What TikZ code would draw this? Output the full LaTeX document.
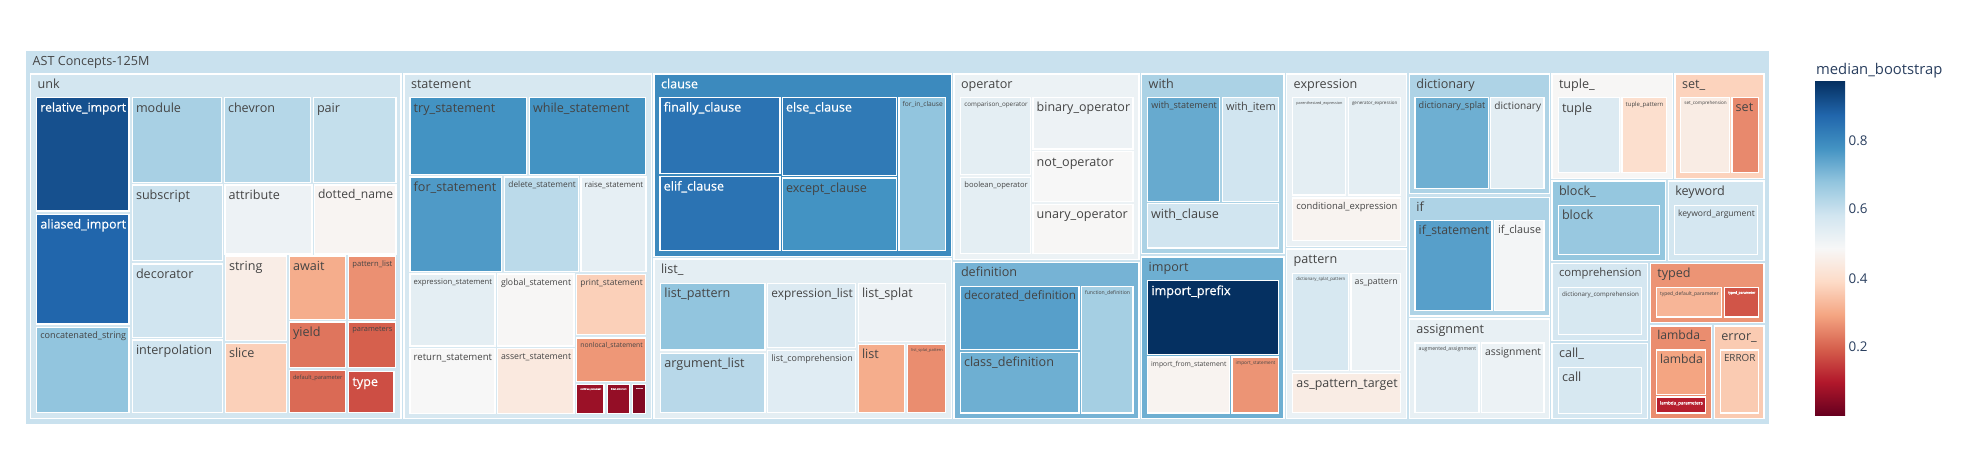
\documentclass[tikz,border=0pt]{standalone}
\usepackage{fontspec}
\setmainfont{Open Sans}
\newfontfamily\wfont{Open Sans}[FakeBold=0.6]
\definecolor{s0}{RGB}{103,0,31}
\definecolor{s1}{RGB}{178,24,43}
\definecolor{s2}{RGB}{214,96,77}
\definecolor{s3}{RGB}{244,165,130}
\definecolor{s4}{RGB}{253,219,199}
\definecolor{s5}{RGB}{247,247,247}
\definecolor{s6}{RGB}{209,229,240}
\definecolor{s7}{RGB}{146,197,222}
\definecolor{s8}{RGB}{67,147,195}
\definecolor{s9}{RGB}{33,102,172}
\definecolor{s10}{RGB}{5,48,97}
\definecolor{tdark}{RGB}{68,68,68}
\definecolor{cbtxt}{RGB}{42,63,95}
\pgfdeclareverticalshading{rdbu}{100bp}{color(0bp)=(s0); color(25bp)=(s0); color(30bp)=(s1); color(35bp)=(s2); color(40bp)=(s3); color(45bp)=(s4); color(50bp)=(s5); color(55bp)=(s6); color(60bp)=(s7); color(65bp)=(s8); color(70bp)=(s9); color(75bp)=(s10); color(100bp)=(s10)}
\newdimen\lblw
\def\whitename{white}
\tikzset{
  tilebox/.style={draw=white, line width=0.55pt},
  lbl/.style={inner sep=0pt, anchor=base west},
  cbtick/.style={inner sep=0pt, anchor=west, text=cbtxt, font=\fontsize{6.7pt}{8pt}\selectfont}
}
% #1 name, #2 x1, #3 y1, #4 x2, #5 pad, #6 text colour, #7 text
\newcommand\boxlabel[7]{%
  \pgfinterruptpicture
    \setbox0=\hbox{\fontsize{6.3pt}{7pt}\selectfont #7}%
    \global\lblw=\wd0\relax
  \endpgfinterruptpicture
  \pgfmathsetmacro\lblwpt{\lblw}%
  \pgfmathsetmacro\lblsc{min(1,((#4-#2-2*#5)*0.5)/max(\lblwpt,0.1))}%
  \pgfmathsetmacro\lblfs{6.3*\lblsc}%
  \pgfmathsetmacro\lbloff{3.6+0.85*12.6*\lblsc}%
  \def\lblcol{#6}%
  \ifx\lblcol\whitename\def\lblfam{\wfont}\else\def\lblfam{}\fi
  \node[lbl, text=#6, font=\lblfam\fontsize{\lblfs pt}{\lblfs pt}\selectfont] (#1) at ({#2+#5},{#3+\lbloff}) {#7};%
}
% leaf tile: [text colour] name x1 y1 x2 y2 fill text
\newcommand\tile[8][tdark]{%
  \path[tilebox, fill=#7] (#3,#4) rectangle (#5,#6);
  \boxlabel{#2}{#3}{#4}{#5}{3.3}{#1}{#8}}
% group tile
\newcommand\grp[8][tdark]{%
  \path[tilebox, fill=#7] (#3,#4) rectangle (#5,#6);
  \boxlabel{#2}{#3}{#4}{#5}{6.6}{#1}{#8}}
\begin{document}
\begin{tikzpicture}[x=0.5pt, y=-0.5pt]
\useasboundingbox (0,0) rectangle (1965,450);
\fill[white] (0,0) rectangle (1965,450);
% root
\grp{root}{25.7}{50.7}{1769.3}{424.3}{s6!88!s7}{AST Concepts-125M}
% groups
\grp{gunk}{30.7}{74}{401}{418.7}{s6!95!s5}{unk}
\grp{gstatement}{404}{74}{651.7}{418.7}{s6!85!s5}{statement}
\grp[white]{gclause}{654}{74}{951.7}{256.7}{s8!80!s9}{clause}
\grp{glist}{654}{259}{951.7}{418.7}{s6!50!s5}{list\_}
\grp{goperator}{954}{74}{1139}{259.3}{s5!70!s6}{operator}
\grp{gdefinition}{954}{262.3}{1139}{418.7}{s7!65!s8}{definition}
\grp{gwith}{1141.7}{74}{1284}{253.3}{s7!60!s6}{with}
\grp{gimport}{1141.7}{257}{1284}{418.7}{s8!45!s7}{import}
\grp{gexpression}{1286.7}{74}{1406.7}{246.7}{s5!65!s6}{expression}
\grp{gpattern}{1286.7}{249}{1406.7}{418.7}{s5!65!s6}{pattern}
\grp{gdictionary}{1409.3}{74}{1549.3}{193.7}{s7!55!s6}{dictionary}
\grp{gif}{1409.3}{197.3}{1549.3}{316}{s7!55!s6}{if}
\grp{gassignment}{1409.3}{319}{1549.3}{418.7}{s5!60!s6}{assignment}
\grp{gtuple}{1552}{74}{1672.3}{178.3}{s5!95!s4}{tuple\_}
\grp{gset}{1675}{74}{1764}{178.3}{s4!85!s3}{set\_}
\grp{gblock}{1552}{181}{1665.7}{260.7}{s7!95!s6}{block\_}
\grp{gkeyword}{1668.3}{181}{1764}{260.7}{s6!95!s5}{keyword}
\grp{gcomprehension}{1552}{263.3}{1647.7}{340.7}{s6!90!s5}{comprehension}
\grp{gcall}{1552}{343.3}{1647.7}{418.7}{s6!90!s5}{call\_}
\grp{gtyped}{1650.3}{263.3}{1764}{322.7}{s3!75!s2}{typed}
\grp{glambda}{1650.3}{326}{1711.7}{418.7}{s3!65!s2}{lambda\_}
\grp{gerror}{1714.3}{326}{1764}{418.7}{s4!70!s3}{error\_}
% unk leaves
\tile[white]{relimport}{36.7}{97.7}{129}{211}{s9!60!s10}{relative\_import}
\tile[white]{aliasimport}{36.7}{214.3}{129}{324}{s9}{aliased\_import}
\tile{concatstring}{36.7}{327.3}{129}{412.7}{s7}{concatenated\_string}
\tile{module}{132.3}{97.7}{221.7}{182.3}{s7!65!s6}{module}
\tile{chevron}{224.3}{97.7}{310.7}{182.3}{s7!45!s6}{chevron}
\tile{pair}{313.3}{97.7}{396}{182.3}{s6!80!s7}{pair}
\tile{subscript}{132.3}{185}{222.7}{260.7}{s6!90!s7}{subscript}
\tile{attribute}{225}{185}{312}{254}{s5!75!s6}{attribute}
\tile{dottedname}{314.3}{185}{396}{254}{s5!90!s4}{dotted\_name}
\tile{decorator}{132.3}{264}{222.7}{337.3}{s6}{decorator}
\tile{interpolation}{132.3}{340}{222.7}{412.7}{s6}{interpolation}
\tile{string}{225.3}{256}{286.7}{340.7}{s4!35!s5}{string}
\tile{slice}{225.3}{343.3}{286.7}{412.7}{s4!80!s3}{slice}
\tile{await}{289.3}{256}{345.3}{319.3}{s3!85!s4}{await}
\tile{patternlist}{348.7}{256}{395.3}{319.3}{s3!70!s2}{pattern\_list}
\tile{yield}{289.3}{322}{345.3}{367.3}{s2!70!s3}{yield}
\tile{parameters}{348.7}{322}{395.3}{367.3}{s2}{parameters}
\tile{defaultparameter}{289.3}{370.7}{345.3}{412.7}{s2!85!s3}{default\_parameter}
\tile[white]{type}{348.7}{371.7}{394}{412.7}{s2!75!s1}{type}
% statement leaves
\tile{trystatement}{410}{97.7}{526.7}{174.3}{s8}{try\_statement}
\tile{whilestatement}{529.3}{97.7}{645.7}{174.3}{s8}{while\_statement}
\tile{forstatement}{410}{177}{501.7}{271.7}{s8!85!s7}{for\_statement}
\tile{deletestatement}{504.7}{177}{578.7}{271.7}{s6!65!s7}{delete\_statement}
\tile{raisestatement}{581}{177}{646}{271.7}{s5!55!s6}{raise\_statement}
\tile{exprstatement}{410}{274}{495}{346}{s5!50!s6}{expression\_statement}
\tile{globalstatement}{497.3}{274}{574}{346}{s5!95!s4}{global\_statement}
\tile{printstatement}{576.7}{274.7}{645.7}{334.3}{s4!80!s3}{print\_statement}
\tile{returnstatement}{410}{348.5}{495}{413.3}{s5}{return\_statement}
\tile{assertstatement}{497.3}{348.5}{574}{413.3}{s4!50!s5}{assert\_statement}
\tile{nonlocalstatement}{576.7}{338}{645.7}{381.3}{s3!80!s2}{nonlocal\_statement}
\tile[white]{continuestatement}{576.7}{384.3}{604}{413.3}{s1!70!s0}{continue\_statement}
\tile[white]{breakstatement}{607.3}{384.3}{629.3}{413.3}{s1!60!s0}{break\_statement}
\tile[white]{passstatement}{632.3}{384.3}{645.7}{413.3}{s1!35!s0}{pass\_statement}
% clause leaves
\tile[white]{finallyclause}{660}{97.3}{780}{173.7}{s9!70!s8}{finally\_clause}
\tile[white]{elifclause}{660}{176.3}{780}{250.7}{s9!70!s8}{elif\_clause}
\tile[white]{elseclause}{782.3}{97.3}{896.7}{175.3}{s9!55!s8}{else\_clause}
\tile{exceptclause}{782.3}{178}{896.7}{250.7}{s8}{except\_clause}
\tile{forinclause}{899}{97.3}{945.7}{250.7}{s7}{for\_in\_clause}
% list leaves
\tile{listpattern}{660.7}{283.3}{765}{350}{s7}{list\_pattern}
\tile{argumentlist}{660.7}{353.3}{765}{412.7}{s6!60!s7}{argument\_list}
\tile{expressionlist}{767.7}{283.3}{855.7}{347.3}{s6!70!s5}{expression\_list}
\tile{listcomprehension}{767.7}{350.7}{855.7}{412.7}{s6!60!s5}{list\_comprehension}
\tile{listsplat}{858.3}{283.3}{945.7}{341.7}{s5!75!s6}{list\_splat}
\tile{list}{858.3}{344.3}{904.3}{412.7}{s3!85!s4}{list}
\tile{listsplatpattern}{907.7}{344.3}{945.7}{412.7}{s3!65!s2}{list\_splat\_pattern}
% operator leaves
\tile{comparisonop}{960.7}{97.3}{1030.7}{174.3}{s5!50!s6}{comparison\_operator}
\tile{booleanop}{960.7}{177.3}{1030.7}{253.7}{s5!50!s6}{boolean\_operator}
\tile{binaryop}{1033}{97.3}{1133}{149}{s5!75!s6}{binary\_operator}
\tile{notop}{1033}{151.7}{1133}{201.7}{s5}{not\_operator}
\tile{unaryop}{1033}{204.3}{1133}{253.7}{s5!96!s4}{unary\_operator}
% with leaves
\tile{withstatement}{1147.7}{97.3}{1219.7}{201.3}{s8!55!s7}{with\_statement}
\tile{withitem}{1222.3}{97.3}{1278.7}{201.3}{s6}{with\_item}
\tile{withclause}{1147.3}{203.7}{1278.7}{248}{s6}{with\_clause}
% definition leaves
\tile{decorateddef}{960.3}{286.3}{1079}{349.7}{s8!75!s7}{decorated\_definition}
\tile{classdef}{960.3}{352.3}{1079}{413}{s8!45!s7}{class\_definition}
\tile{functiondef}{1081.3}{286.3}{1133}{413}{s7!70!s6}{function\_definition}
% import leaves
\tile[white]{importprefix}{1147.7}{280.7}{1278.3}{354.3}{s10}{import\_prefix}
\tile{importfrom}{1147.3}{357}{1229.3}{413}{s5!85!s4}{import\_from\_statement}
\tile{importstatement}{1232}{357}{1278.3}{413}{s3!75!s2}{import\_statement}
% expression leaves
\tile{parenexpr}{1292.7}{97.3}{1345.3}{195}{s5!50!s6}{parenthesized\_expression}
\tile{genexpr}{1348.3}{97.3}{1400.3}{195}{s5!50!s6}{generator\_expression}
\tile{condexpr}{1292.7}{198}{1400.3}{240.3}{s5!85!s4}{conditional\_expression}
% pattern leaves
\tile{dictsplatpattern}{1292.7}{273.3}{1348.3}{370.7}{s6!85!s5}{dictionary\_splat\_pattern}
\tile{aspattern}{1351}{273.3}{1400.7}{370.7}{s5!70!s6}{as\_pattern}
\tile{aspatterntarget}{1292.7}{373.7}{1400.7}{412.7}{s4!40!s5}{as\_pattern\_target}
% dictionary leaves
\tile{dictsplat}{1415}{97.3}{1488.3}{188.3}{s8!45!s7}{dictionary\_splat}
\tile{dictionary}{1490.7}{97.3}{1544}{188.3}{s5!45!s6}{dictionary}
% if leaves
\tile{ifstatement}{1415}{220.3}{1492}{310.7}{s8!75!s7}{if\_statement}
\tile{ifclause}{1494.3}{220.3}{1544}{310.7}{s5!90!s6}{if\_clause}
% assignment leaves
\tile{augassign}{1415}{343}{1479}{412.7}{s5!45!s6}{augmented\_assignment}
\tile{assignment}{1481.3}{343}{1544}{412.7}{s5!70!s6}{assignment}
% tuple, set
\tile{tuple}{1558.3}{97.7}{1619.3}{172.3}{s6!70!s5}{tuple}
\tile{tuplepattern}{1622}{97.7}{1666.3}{172.3}{s4!85!s5}{tuple\_pattern}
\tile{setcomprehension}{1680.7}{97.3}{1729.7}{172.7}{s4!40!s5}{set\_comprehension}
\tile{set}{1732}{97.3}{1758.3}{172.7}{s3!60!s2}{set}
% block, keyword
\tile{block}{1558.3}{205.3}{1659.7}{254.3}{s7!90!s6}{block}
\tile{keywordargument}{1674.3}{205.3}{1757.7}{254.3}{s6!90!s5}{keyword\_argument}
% comprehension, call
\tile{dictcomprehension}{1558.3}{287.3}{1641.7}{334.3}{s6!85!s5}{dictionary\_comprehension}
\tile{call}{1558.3}{367.3}{1641.7}{413.3}{s6!85!s5}{call}
% typed, lambda, error
\tile{typeddefault}{1656.3}{287.3}{1721.7}{317}{s3!70!s4}{typed\_default\_parameter}
\tile[white]{typedparameter}{1724.3}{287.3}{1758.3}{317}{s2!85!s1}{typed\_parameter}
\tile{lambda}{1656.3}{350}{1705.7}{394.3}{s3}{lambda}
\tile[white]{lambdaparameters}{1656.3}{397}{1705.7}{413}{s1!90!s2}{lambda\_parameters}
\tile{errorleaf}{1720.3}{350}{1758.3}{413}{s4!70!s3}{ERROR}
% colour bar
\shade[shading=rdbu] (1815,81.7) rectangle (1845,415);
\node[inner sep=0pt, anchor=base west, text=cbtxt, font=\fontsize{7.4pt}{9pt}\selectfont] (cbtitle) at (1815.7,74.3) {median\_bootstrap};
\node[cbtick] (t08) at (1848.3,140.7) {0.8};
\node[cbtick] (t06) at (1848.3,208.3) {0.6};
\node[cbtick] (t04) at (1848.3,278.3) {0.4};
\node[cbtick] (t02) at (1848.3,346.7) {0.2};
\end{tikzpicture}
\end{document}
